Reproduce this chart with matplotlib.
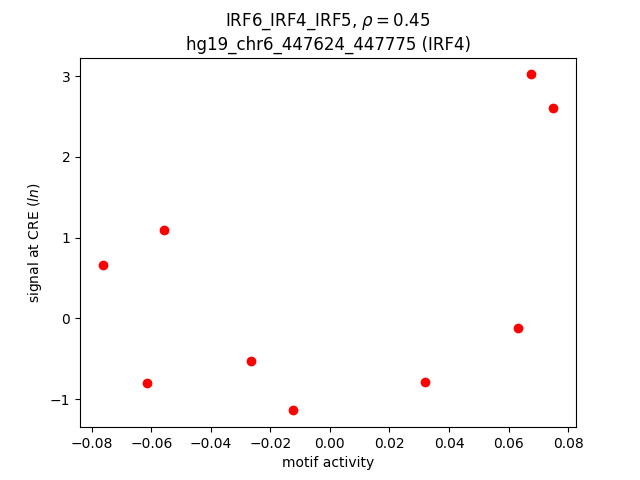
import matplotlib
matplotlib.use("Agg")
import matplotlib.pyplot as plt

motif_activity = [-0.0764, -0.0613, -0.0559, -0.0266, -0.0125, 0.0320, 0.0633, 0.0677, 0.0751]
signal = [0.656, -0.805, 1.09, -0.532, -1.14, -0.79, -0.124, 3.02, 2.61]

fig, ax = plt.subplots(figsize=(6.4, 4.8), dpi=100)
ax.scatter(motif_activity, signal, color="red")
ax.set_xlabel("motif activity")
ax.set_ylabel("signal at CRE ($ln$)")
ax.set_title("IRF6_IRF4_IRF5, $\\rho = 0.45$\nhg19_chr6_447624_447775 (IRF4)")
fig.savefig("out.png", dpi=100)
